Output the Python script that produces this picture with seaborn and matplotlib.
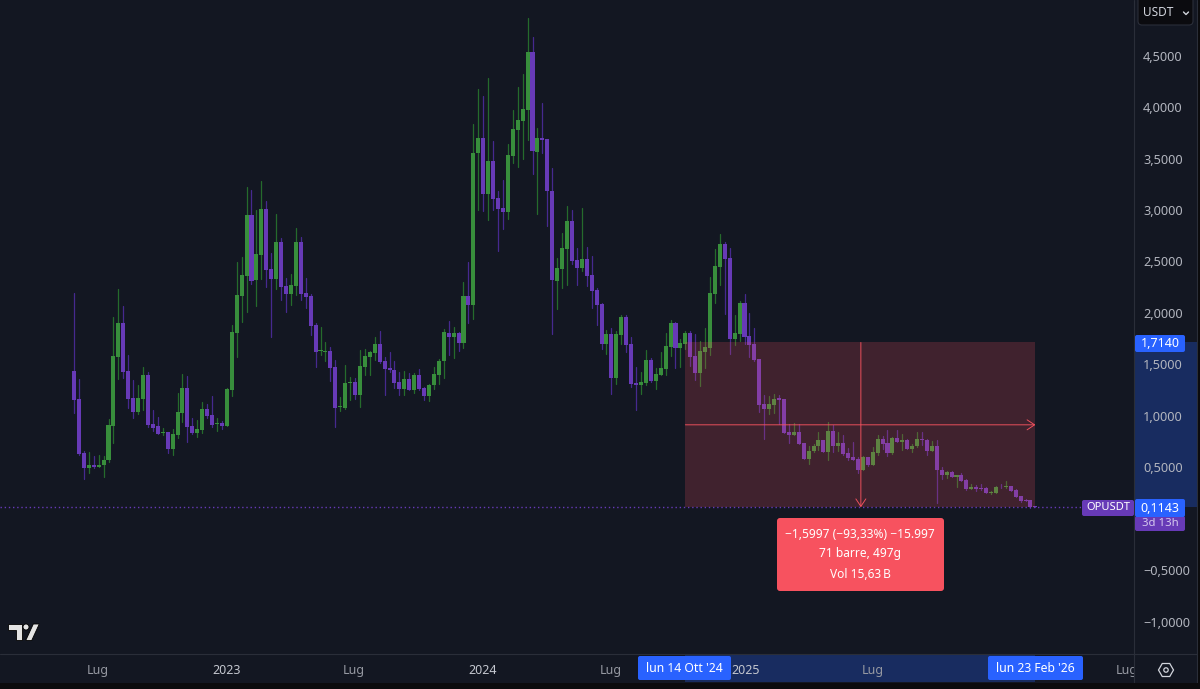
import matplotlib
matplotlib.use("Agg")
import numpy as np
import pandas as pd
import seaborn as sns
import matplotlib.pyplot as plt
from matplotlib.lines import Line2D
from matplotlib.patches import Circle, FancyBboxPatch, Polygon, Rectangle, RegularPolygon
from matplotlib.transforms import Affine2D, Bbox, blended_transform_factory

# OPUSDT weekly candles
opens = [
    1.437, 1.162, .638, .498, .527, .505, .521, .570, .906, 1.573,
    1.906, 1.437, 1.171, 1.042, 1.162, 1.395, .922, .900, .832, .841,
    .680, .815, 1.026, 1.272, .900, .832, .864, 1.068, 1.010, .922,
    .932, .906, 1.252, 1.802, 2.165, 2.362, 2.951, 2.324, 2.563, 3.006,
    2.427, 2.330, 2.686, 2.262, 2.184, 2.265, 2.686, 2.194, 2.165, 1.883,
    1.628, 1.625, 1.634, 1.476, 1.084, 1.081, 1.320, 1.330, 1.204, 1.476,
    1.573, 1.612, 1.699, 1.531, 1.466, 1.443, 1.330, 1.259, 1.362, 1.249,
    1.401, 1.275, 1.194, 1.298, 1.401, 1.531, 1.809, 1.764, 1.809, 1.705,
    2.165, 2.078, 3.556, 3.699, 3.155, 3.476, 3.117, 3.019, 2.981, 3.524,
    3.777, 3.867, 3.971, 4.534, 3.563, 3.699, 3.686, 3.188, 2.314, 2.427,
    2.621, 2.893, 2.514, 2.437, 2.524, 2.372, 2.226, 2.091, 1.699, 1.796,
    1.369, 1.786, 1.964, 1.699, 1.324, 1.298, 1.320, 1.547, 1.343, 1.401,
    1.456, 1.673, 1.900, 1.663, 1.699, 1.806, 1.586, 1.417, 1.625, 1.663,
    2.184, 2.450, 2.670, 2.534, 1.748, 1.796, 2.094, 1.780, 1.699, 1.553,
    1.116, 1.068, 1.107, 1.171, 1.165, .845, .815, .848, .738, .583,
    .660, .709, .767, .650, .854, .712, .738, .641, .602, .583,
    .476, .602, .527, .641, .777, .738, .641, .786, .748, .767,
    .680, .709, .777, .767, .663, .712, .479, .427, .460, .408,
    .427, .379, .291, .314, .301, .298, .256, .256, .314, .311,
    .320, .282, .223, .184, .184, .125,
]
closes = [
    1.155, .631, .498, .527, .505, .527, .576, .913, 1.579, 1.906,
    1.427, 1.162, 1.042, 1.171, 1.395, .913, .887, .825, .845, .680,
    .825, 1.036, 1.272, .890, .832, .870, 1.068, 1.000, .913, .932,
    .903, 1.259, 1.819, 2.171, 2.369, 2.951, 2.314, 2.573, 3.006, 2.417,
    2.330, 2.686, 2.252, 2.184, 2.272, 2.686, 2.184, 2.155, 1.874, 1.618,
    1.641, 1.634, 1.466, 1.081, 1.097, 1.320, 1.330, 1.204, 1.482, 1.579,
    1.618, 1.699, 1.521, 1.460, 1.443, 1.320, 1.259, 1.362, 1.249, 1.401,
    1.265, 1.194, 1.304, 1.408, 1.531, 1.819, 1.764, 1.809, 1.705, 2.165,
    2.078, 3.556, 3.699, 3.155, 3.476, 3.107, 3.010, 2.981, 3.534, 3.786,
    3.874, 3.981, 4.534, 3.573, 3.699, 3.680, 3.181, 2.317, 2.434, 2.628,
    2.893, 2.508, 2.437, 2.524, 2.362, 2.217, 2.081, 1.699, 1.796, 1.369,
    1.796, 1.964, 1.689, 1.311, 1.298, 1.333, 1.547, 1.343, 1.411, 1.469,
    1.683, 1.900, 1.663, 1.709, 1.806, 1.576, 1.417, 1.634, 1.673, 2.194,
    2.459, 2.670, 2.524, 1.748, 1.806, 2.094, 1.770, 1.689, 1.544, 1.107,
    1.068, 1.116, 1.168, 1.155, .835, .815, .848, .728, .583, .663,
    .712, .767, .650, .854, .712, .738, .631, .592, .573, .476,
    .602, .527, .650, .777, .728, .641, .786, .748, .767, .680,
    .712, .777, .767, .663, .712, .476, .427, .460, .408, .427,
    .369, .291, .311, .291, .291, .256, .265, .311, .307, .317,
    .272, .214, .175, .175, .118, .1143,
]
highs = [
    2.197, 1.359, .663, .647, .612, .618, .612, .968, 1.961, 2.233,
    2.068, 1.592, 1.349, 1.301, 1.476, 1.427, 1.058, .987, .880, .841,
    .870, 1.223, 1.408, 1.388, .981, .961, 1.136, 1.116, 1.191, .981,
    .951, 1.272, 1.883, 2.498, 2.547, 3.220, 3.194, 3.000, 3.285, 3.091,
    2.579, 2.958, 2.728, 2.340, 2.379, 2.825, 2.738, 2.340, 2.184, 1.906,
    1.867, 1.715, 1.667, 1.544, 1.184, 1.498, 1.379, 1.369, 1.641, 1.647,
    1.628, 1.764, 1.825, 1.573, 1.618, 1.531, 1.427, 1.434, 1.414, 1.414,
    1.456, 1.281, 1.311, 1.476, 1.553, 1.845, 1.922, 1.867, 1.819, 2.301,
    2.492, 3.835, 4.175, 4.107, 4.278, 3.670, 3.181, 3.291, 3.641, 3.968,
    4.191, 4.320, 4.864, 4.680, 3.796, 4.039, 3.686, 3.405, 2.531, 2.780,
    3.039, 3.000, 2.631, 3.019, 2.644, 2.556, 2.243, 2.097, 1.835, 1.854,
    1.825, 1.981, 1.981, 1.764, 1.476, 1.427, 1.641, 1.563, 1.469, 1.625,
    1.806, 1.932, 1.913, 1.748, 1.825, 1.825, 1.796, 1.731, 1.851, 2.346,
    2.618, 2.767, 2.686, 2.631, 1.981, 2.113, 2.181, 1.997, 1.854, 1.553,
    1.204, 1.194, 1.214, 1.204, 1.165, .922, .929, .922, .738, .709,
    .728, .848, .767, .945, .913, .841, .815, .689, .748, .605,
    .612, .602, .699, .815, .806, .864, .796, .864, .825, .777,
    .728, .841, .848, .773, .757, .767, .508, .466, .466, .427,
    .447, .388, .340, .327, .340, .311, .275, .320, .340, .369,
    .320, .291, .223, .191, .184, .13,
]
lows = [
    1.032, .618, .392, .450, .498, .505, .405, .553, .738, 1.356,
    1.369, 1.081, .984, 1.019, 1.058, .896, .858, .825, .815, .641,
    .621, .786, .938, .751, .825, .793, .835, .981, .890, .858,
    .874, .903, 1.194, 1.573, 1.913, 2.010, 2.281, 2.068, 2.330, 2.252,
    1.764, 2.233, 2.126, 2.010, 2.078, 2.171, 2.126, 2.052, 1.786, 1.476,
    1.592, 1.531, 1.340, .890, 1.052, 1.071, 1.155, 1.162, 1.091, 1.398,
    1.395, 1.544, 1.511, 1.204, 1.427, 1.272, 1.201, 1.204, 1.249, 1.226,
    1.249, 1.155, 1.149, 1.265, 1.311, 1.372, 1.592, 1.563, 1.628, 1.660,
    1.906, 1.945, 3.000, 2.990, 2.900, 3.000, 2.602, 2.819, 2.909, 3.453,
    3.421, 3.495, 3.680, 3.350, 2.961, 3.553, 2.845, 1.796, 2.036, 2.243,
    2.269, 2.476, 2.269, 2.411, 2.265, 2.052, 1.883, 1.650, 1.602, 1.217,
    1.314, 1.699, 1.618, 1.282, 1.058, 1.217, 1.301, 1.333, 1.265, 1.398,
    1.398, 1.586, 1.469, 1.479, 1.650, 1.489, 1.349, 1.291, 1.469, 1.595,
    2.097, 2.272, 1.990, 1.602, 1.692, 1.728, 1.699, 1.573, 1.537, 1.039,
    .777, 1.019, 1.032, .922, .835, .738, .815, .728, .583, .534,
    .650, .670, .650, .573, .650, .660, .621, .573, .573, .447,
    .476, .515, .524, .621, .680, .612, .631, .748, .673, .680,
    .650, .702, .718, .621, .660, .152, .385, .398, .408, .311,
    .369, .285, .288, .272, .282, .249, .243, .256, .298, .301,
    .272, .214, .165, .172, .105, .1143,
]

price_ticks = [-1.0, -0.5, 0.5, 1.0, 1.5, 2.0, 2.5, 3.0, 3.5, 4.0, 4.5]
time_ticks = [4.9, 30.9, 56.8, 82.8, 108.9, 136.2, 162.0, 213.6]
time_labels = ["Lug", "2023", "Lug", "2024", "Lug", "2025", "Lug", "Lug"]

# measure tool
range_top = 1.714
range_bottom = 0.1143
last_price = 0.1143
range_start_bar = 124.0
range_end_bar = 195.0
range_mid_bar = 159.6

BG = "#131722"
GREEN = "#388e3c"
PURPLE = "#673ab7"
GREEN_WICK = "#256b2c"
PURPLE_WICK = "#46298f"
RED = "#f7525f"
BLUE = "#2962ff"
BAND = "#182c60"
GRID = "#2a2e39"
TEXT = "#b2b5be"

sns.set_theme(style="dark", rc={"axes.facecolor": BG, "figure.facecolor": BG})
plt.rcParams["font.family"] = ["Noto Sans", "DejaVu Sans"]

df = pd.DataFrame({"bar": np.arange(len(opens)), "open": opens, "close": closes,
                   "high": highs, "low": lows})
df["dir"] = np.where(df["close"] >= df["open"], "up", "down")
df["bottom"] = df[["open", "close"]].min(axis=1)
df["body"] = (df["close"] - df["open"]).abs()

wicks = df.melt(id_vars=["bar", "dir"], value_vars=["low", "high"], value_name="price")

fig = plt.figure(figsize=(12, 6.89), dpi=100)
ax = fig.add_axes([0, 35 / 689, 1134 / 1200, 654 / 689])
# pixel coords, origin top left, for the screen furniture round the chart
px = Affine2D().scale(1, -1).translate(0, 689)

sns.lineplot(data=wicks, x="bar", y="price", hue="dir", units="bar", estimator=None,
             sort=False, palette={"up": GREEN_WICK, "down": PURPLE_WICK}, lw=0.9,
             legend=False, ax=ax, zorder=2)
for direction, colour in [("up", GREEN), ("down", PURPLE)]:
    part = df[df["dir"] == direction]
    sns.barplot(data=part, x="bar", y="body", bottom=part["bottom"].values, native_scale=True,
                color=colour, saturation=1, width=0.82, errorbar=None, linewidth=0,
                ax=ax, zorder=2.2)

ax.set_xlim(-15.01, 215.0)
ax.set_ylim(-1.311, 5.039)
ax.set_xlabel("")
ax.set_ylabel("")
ax.grid(False)
for s in ax.spines.values():
    s.set_visible(False)

ax.yaxis.tick_right()
ax.set_yticks(price_ticks)
ax.set_yticklabels([f"{v:.4f}".replace(".", ",").replace("-", "\u2212") for v in price_ticks])
ax.tick_params(axis="y", length=0, pad=6.5, labelsize=9.2, labelcolor=TEXT)
ax.set_xticks(time_ticks)
ax.set_xticklabels(time_labels)
ax.tick_params(axis="x", length=0, pad=7, labelsize=9, labelcolor="#9598a1")
clip = Bbox.from_extents(0, 0, 1134, 689)
for lab in ax.get_xticklabels():
    lab.set_clip_box(clip)
    lab.set_clip_on(True)
    if lab.get_text().isdigit():
        lab.set_fontweight("bold")
        lab.set_color("#c3c6ce")

# last price dotted line
ax.axhline(last_price, color=PURPLE, lw=1, ls=(0, (1, 2)), zorder=2.5)

# measure rectangle, on top of the candles
ax.add_patch(Rectangle((range_start_bar, range_bottom), range_end_bar - range_start_bar,
                       range_top - range_bottom, facecolor=RED, alpha=0.2, lw=0, zorder=3))
mid_price = (range_top + range_bottom) / 2
arrow = "->,head_length=0.45,head_width=0.3"
ax.annotate("", xy=(range_end_bar, mid_price), xytext=(range_start_bar, mid_price),
            arrowprops=dict(arrowstyle=arrow, color=RED, lw=0.65, shrinkA=0, shrinkB=0), zorder=4)
ax.annotate("", xy=(range_mid_bar, range_bottom), xytext=(range_mid_bar, range_top),
            arrowprops=dict(arrowstyle=arrow, color=RED, lw=0.65, shrinkA=0, shrinkB=0), zorder=4)

# highlighted range in the two scales, under the axis labels
xband = blended_transform_factory(ax.transData, ax.transAxes)
ax.add_patch(Rectangle((range_start_bar, -28 / 654), range_end_bar - range_start_bar, 27 / 654,
                       transform=xband, facecolor=BAND, lw=0, clip_on=False, zorder=0.1))
yband = blended_transform_factory(ax.transAxes, ax.transData)
ax.add_patch(Rectangle((1, range_bottom), 63 / 1134, range_top - range_bottom,
                       transform=yband, facecolor=BAND, lw=0, clip_on=False, zorder=0.1))


def box(x0, y0, x1, y1, colour, round_px=2, edge="none", z=5):
    fig.add_artist(FancyBboxPatch((x0, y0), x1 - x0, y1 - y0,
                                  boxstyle=f"round,pad=0,rounding_size={round_px}",
                                  transform=px, facecolor=colour, edgecolor=edge, lw=0.8, zorder=z))


def label(x, y, s, colour="white", size=9.2, ha="center", weight="normal"):
    fig.text(x, y, s, transform=px, color=colour, fontsize=size, ha=ha, va="center",
             fontweight=weight, zorder=6)


# frame lines and the black edge of the screenshot
for xs, ys in [((1134, 1134), (0, 683)), ((0, 1197), (654, 654)), ((1197, 1197), (0, 683))]:
    fig.add_artist(Line2D(xs, ys, transform=px, color=GRID, lw=0.8, zorder=1))
fig.add_artist(Rectangle((0, 683), 1200, 6, transform=px, facecolor="#0b0b0d", lw=0, zorder=1))
fig.add_artist(Rectangle((1198, 0), 2, 689, transform=px, facecolor="#0b0b0d", lw=0, zorder=1))

# currency button
box(1138, -4, 1193, 25, "#0b0b0f", round_px=4, edge=GRID)
label(1143, 13, "USDT", colour="#d1d4dc", size=8.5, ha="left")
fig.add_artist(Line2D([1183.5, 1186, 1188.5], [12, 14.5, 12], transform=px, color="#d1d4dc",
                      lw=1, zorder=6))

# price tags
box(1135, 335, 1185, 352, BLUE)
label(1160, 343.5, "1,7140", size=9)
box(1135, 516, 1185, 531, PURPLE)
label(1160, 523.5, "3d 13h", colour="#d5c8ee", size=8.2)
box(1135, 499, 1185, 517, BLUE)
label(1160, 508, "0,1143", size=9)
box(1082, 500, 1134, 516, PURPLE)
label(1108, 508, "OPUSDT", size=8)

# date tags
box(638, 656, 731, 680, BLUE)
label(684.5, 668.5, "lun 14 Ott '24", size=8.8)
box(988, 656, 1083, 680, BLUE)
label(1035.5, 668.5, "lun 23 Feb '26", size=8.8)

# measure info box
box(777, 518, 944, 591, RED, round_px=3)
label(860, 534, "\u22121,5997 (\u221293,33%) \u221215.997", size=8.6)
label(860, 554, "71 barre, 497g", size=8.6)
label(860, 575, "Vol 15,63\u202fB", size=8.6)

# settings icon
fig.add_artist(RegularPolygon((1166, 670), 6, radius=7.5, orientation=np.pi / 6, transform=px,
                              facecolor="none", edgecolor="#d1d4dc", lw=0.9, zorder=5))
fig.add_artist(Circle((1166, 670), 2.2, transform=px, facecolor="none", edgecolor="#d1d4dc",
                      lw=0.9, zorder=5))

# logo
logo = "#e4e4e4"
fig.add_artist(Polygon([(8, 624), (22, 624), (22, 640), (16, 640), (16, 630), (8, 630)],
                       transform=px, facecolor=logo, edgecolor="#000000", lw=0.6, zorder=5))
fig.add_artist(Circle((26, 627), 3, transform=px, facecolor=logo, edgecolor="#000000", lw=0.6, zorder=5))
fig.add_artist(Polygon([(33.3, 624), (39.3, 624), (31.7, 640.5), (25.7, 640.5)],
                       transform=px, facecolor=logo, edgecolor="#000000", lw=0.6, zorder=5))

fig.savefig("out.png", dpi=100, facecolor=BG)
